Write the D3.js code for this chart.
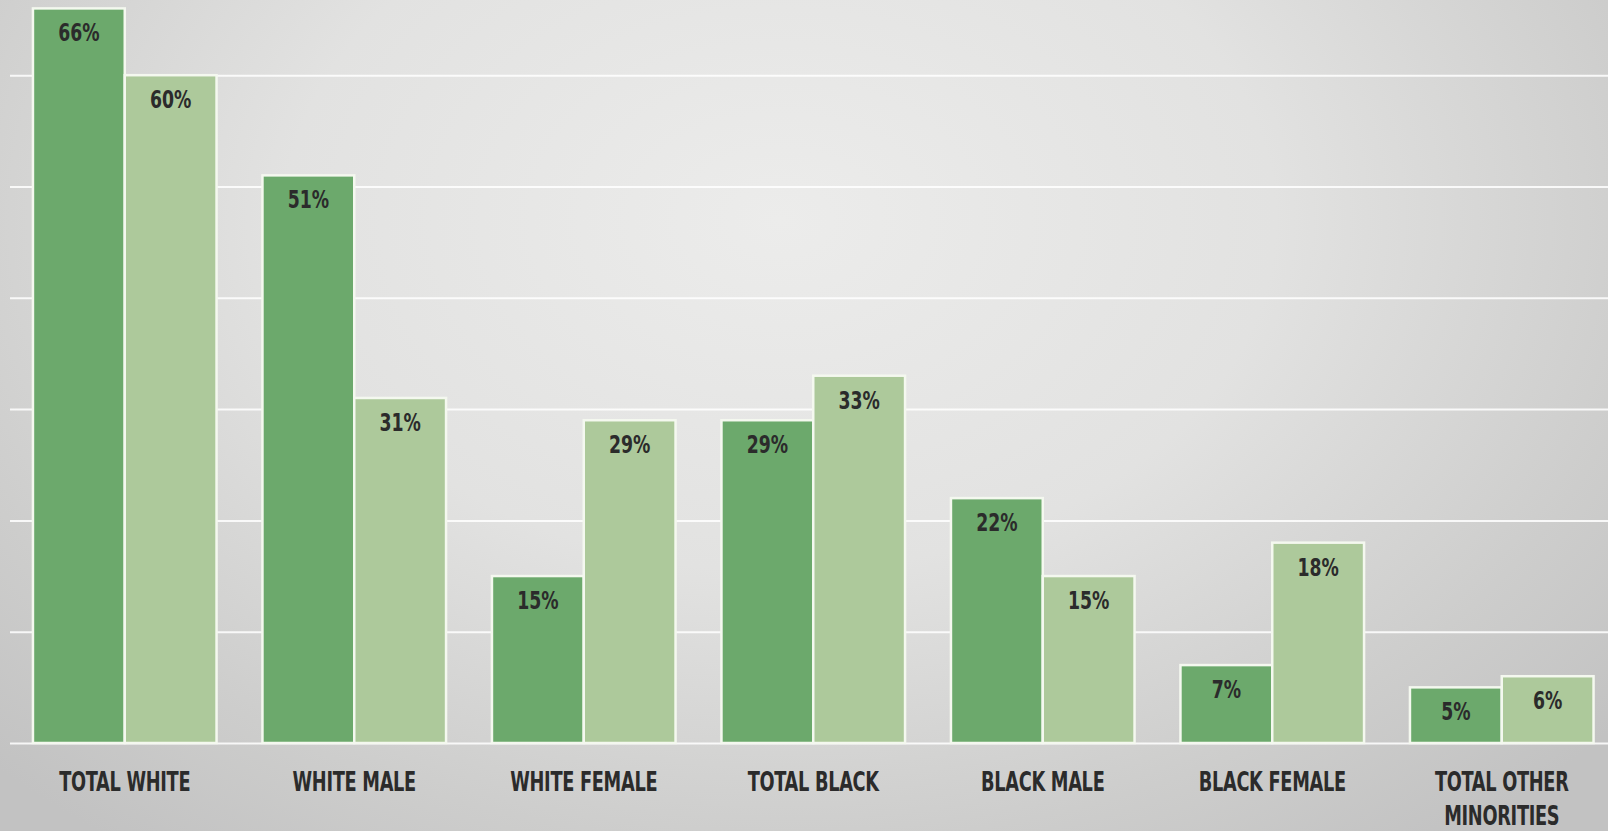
<!DOCTYPE html>
<html>
<head>
<meta charset="utf-8">
<script src="https://cdn.jsdelivr.net/npm/d3@7"></script>
<style>
  html, body { margin: 0; padding: 0; background: #c8c8c8; overflow: hidden; }
  svg { display: block; }
  text { font-family: "Liberation Sans Narrow", "Arial Narrow", "DejaVu Sans Condensed", sans-serif; font-weight: bold; fill: #2b2b2b; }
</style>
</head>
<body>
<svg id="chart" width="1608" height="831"></svg>
<script>
// data
const categories = ["TOTAL WHITE", "WHITE MALE", "WHITE FEMALE", "TOTAL BLACK", "BLACK MALE", "BLACK FEMALE", "TOTAL OTHER MINORITIES"];
const seriesNames = ["first", "second"];
const firstValues = [66, 51, 15, 29, 22, 7, 5];
const secondValues = [60, 31, 29, 33, 15, 18, 6];
const gridTicks = [0, 10, 20, 30, 40, 50, 60, 70];

const seriesColors = { first: "#6ca96c", second: "#adc99b" };

const W = 1608, H = 831;
const squeeze = 0.76; // the font in the picture is very narrow
const svg = d3.select("#chart");

// background: photographed grey with lighter centre
const defs = svg.append("defs");
const grad = defs.append("radialGradient")
    .attr("id", "bg")
    .attr("gradientUnits", "userSpaceOnUse")
    .attr("cx", 780).attr("cy", 220).attr("r", 1000)
    .attr("gradientTransform", "translate(780,220) scale(1.1,0.78) translate(-780,-220)");
grad.append("stop").attr("offset", "0").attr("stop-color", "#ececeb");
grad.append("stop").attr("offset", "0.45").attr("stop-color", "#e2e2e1");
grad.append("stop").attr("offset", "0.8").attr("stop-color", "#cdcdcc");
grad.append("stop").attr("offset", "1").attr("stop-color", "#c2c2c2");
svg.append("rect").attr("width", W).attr("height", H).attr("fill", "url(#bg)");

const rows = categories.map((c, i) => ({ cat: c, first: firstValues[i], second: secondValues[i] }));

const x0 = d3.scaleBand()
    .domain(categories)
    .range([10, 1616.5])
    .paddingInner(0.2)
    .paddingOuter(0.1);

const x1 = d3.scaleBand()
    .domain(seriesNames)
    .range([0, x0.bandwidth()]);

const y = d3.scaleLinear()
    .domain([0, 70])
    .range([743, 743 - 70 * 11.13]);

// gridlines
svg.append("g")
    .attr("transform", "translate(10,0)")
    .call(d3.axisLeft(y).tickValues(gridTicks).tickSize(-(W - 10)).tickFormat(""))
    .call(g => g.select(".domain").remove())
    .call(g => g.selectAll(".tick line")
        .attr("stroke", "#ffffff")
        .attr("stroke-opacity", 0.85)
        .attr("stroke-width", 2));

// bars
const groups = svg.append("g")
    .selectAll("g")
    .data(rows)
    .join("g")
    .attr("transform", d => `translate(${x0(d.cat)},0)`);

groups.selectAll("rect")
    .data(d => seriesNames.map(k => ({ key: k, value: d[k] })))
    .join("rect")
    .attr("x", d => x1(d.key))
    .attr("y", d => y(d.value))
    .attr("width", x1.bandwidth())
    .attr("height", d => y(0) - y(d.value))
    .attr("fill", d => seriesColors[d.key])
    .attr("stroke", "#f4f8ef")
    .attr("stroke-width", 2.5);

groups.selectAll("text.val")
    .data(d => seriesNames.map(k => ({ key: k, value: d[k] })))
    .join("text")
    .attr("class", "val")
    .attr("transform", d => `translate(${x1(d.key) + x1.bandwidth() / 2},${y(d.value) + 33}) scale(${squeeze + 0.04},1)`)
    .attr("text-anchor", "middle")
    .attr("font-size", 24)
    .text(d => d.value + "%");

// category labels, wrapped to the group width
const catLabels = svg.append("g")
    .selectAll("text")
    .data(categories)
    .join("text")
    .attr("transform", d => `translate(${x0(d) + x0.bandwidth() / 2},791) scale(${squeeze},1)`)
    .attr("text-anchor", "middle")
    .attr("font-size", 26)
    .attr("letter-spacing", -0.4);

catLabels.each(function (d) {
    const t = d3.select(this);
    const words = d.split(" ");
    let line = [];
    let tspan = t.append("tspan").attr("x", 0).attr("dy", 0);
    words.forEach(w => {
        line.push(w);
        tspan.text(line.join(" "));
        if (tspan.node().getComputedTextLength() * squeeze > 165 && line.length > 1) {
            line.pop();
            tspan.text(line.join(" "));
            line = [w];
            tspan = t.append("tspan").attr("x", 0).attr("dy", 34).text(w);
        }
    });
});
</script>
</body>
</html>
